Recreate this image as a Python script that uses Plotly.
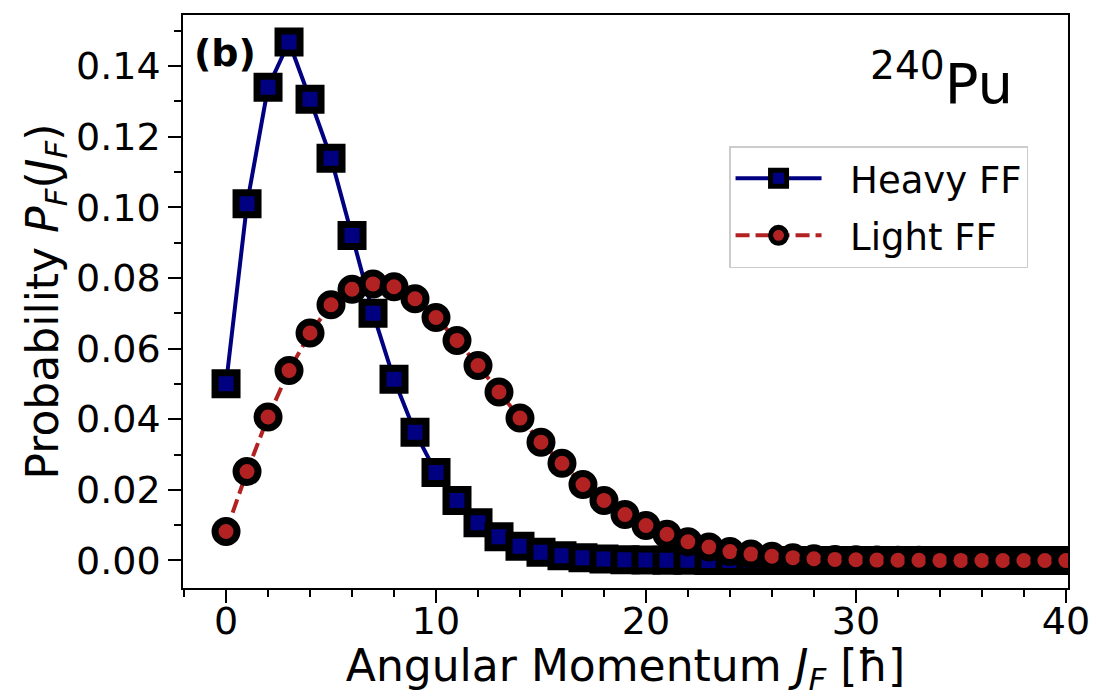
import plotly.graph_objects as go

J = list(range(41))
heavy_ff = [0.0500, 0.1010, 0.1340, 0.1468, 0.1306, 0.1139, 0.0920, 0.0700, 0.0513, 0.0363,
            0.0249, 0.0170, 0.0107, 0.0067, 0.0040, 0.0023, 0.0013, 0.0008, 0.0004, 0.0002,
            0.0001, 0.00006, 0.00003, 0.00002, 0.00001, 0, 0, 0, 0, 0,
            0, 0, 0, 0, 0, 0, 0, 0, 0, 0, 0]
light_ff = [0.0082, 0.0252, 0.0406, 0.0538, 0.0644, 0.0724, 0.0768, 0.0783, 0.0775, 0.0741,
            0.0688, 0.0623, 0.0552, 0.0477, 0.0403, 0.0335, 0.0275, 0.0215, 0.0170, 0.0130,
            0.0099, 0.0074, 0.0053, 0.0038, 0.0025, 0.0018, 0.0012, 0.0008, 0.0005, 0.0003,
            0.0002, 0.0001, 0.00007, 0.00004, 0.00002, 0.00001, 0, 0, 0, 0, 0]

FONT = "DejaVu Sans"
NB = "\u00a0\u00a0"

fig = go.Figure()
fig.add_trace(go.Scatter(
    x=J, y=heavy_ff, name=NB + "Heavy FF", mode="lines+markers", legendgroup="h",
    line=dict(color="#000080", width=4),
    marker=dict(symbol="square", size=22, color="#000080", line=dict(color="black", width=7)),
))
fig.add_trace(go.Scatter(
    x=J, y=light_ff, name=NB + "Light FF", mode="lines+markers", legendgroup="l",
    line=dict(color="#B22222", width=4, dash="14px,6px"),
    marker=dict(symbol="circle", size=22, color="#B22222", line=dict(color="black", width=7)),
))

axis_common = dict(
    showline=True, linecolor="black", linewidth=1.5, mirror=True,
    ticks="outside", ticklen=13, tickwidth=1.5, tickcolor="black",
    showgrid=False, zeroline=False, automargin=False,
    tickfont=dict(family=FONT, size=38, color="black"),
)

fig.update_xaxes(
    range=[-2.05, 40.1], tickvals=[0, 10, 20, 30, 40],
    ticklabelstandoff=-14,
    minor=dict(dtick=2, tick0=0, ticks="outside", ticklen=7, tickwidth=1.5, tickcolor="black"),
    title=dict(text="Angular Momentum <i>J</i><sub><i>F</i></sub> [ħ]",
               font=dict(family=FONT, size=44, color="black"), standoff=20),
    **axis_common,
)
fig.update_yaxes(
    range=[-0.0078, 0.15444], tickvals=[0, 0.02, 0.04, 0.06, 0.08, 0.10, 0.12, 0.14],
    tickformat=".2f",
    minor=dict(dtick=0.01, tick0=0, ticks="outside", ticklen=7, tickwidth=1.5, tickcolor="black"),
    title=dict(text="Probability <i>P</i><sub><i>F</i></sub>(<i>J</i><sub><i>F</i></sub>)",
               font=dict(family=FONT, size=44, color="black"), standoff=4),
    **axis_common,
)

fig.add_annotation(x=0.010, y=0.976, xref="paper", yref="paper", xanchor="left", yanchor="top",
                   text="<b>(b)</b>", showarrow=False,
                   font=dict(family=FONT, size=38, color="black"))
fig.add_annotation(x=0.940, y=0.887, xref="paper", yref="paper", xanchor="right", yanchor="middle",
                   text="<sup>240</sup>Pu", showarrow=False,
                   font=dict(family=FONT, size=56, color="black"))

fig.update_layout(
    template="none",
    width=1096, height=697,
    margin=dict(l=183, r=28, t=15, b=109),
    paper_bgcolor="white", plot_bgcolor="white",
    font=dict(family=FONT, color="black"),
    legend=dict(x=0.617, y=0.771, xanchor="left", yanchor="top",
                bgcolor="white", bordercolor="#cccccc", borderwidth=1.5,
                itemwidth=86, tracegroupgap=6,
                font=dict(family=FONT, size=37, color="black")),
)

fig.write_html("out.html")
